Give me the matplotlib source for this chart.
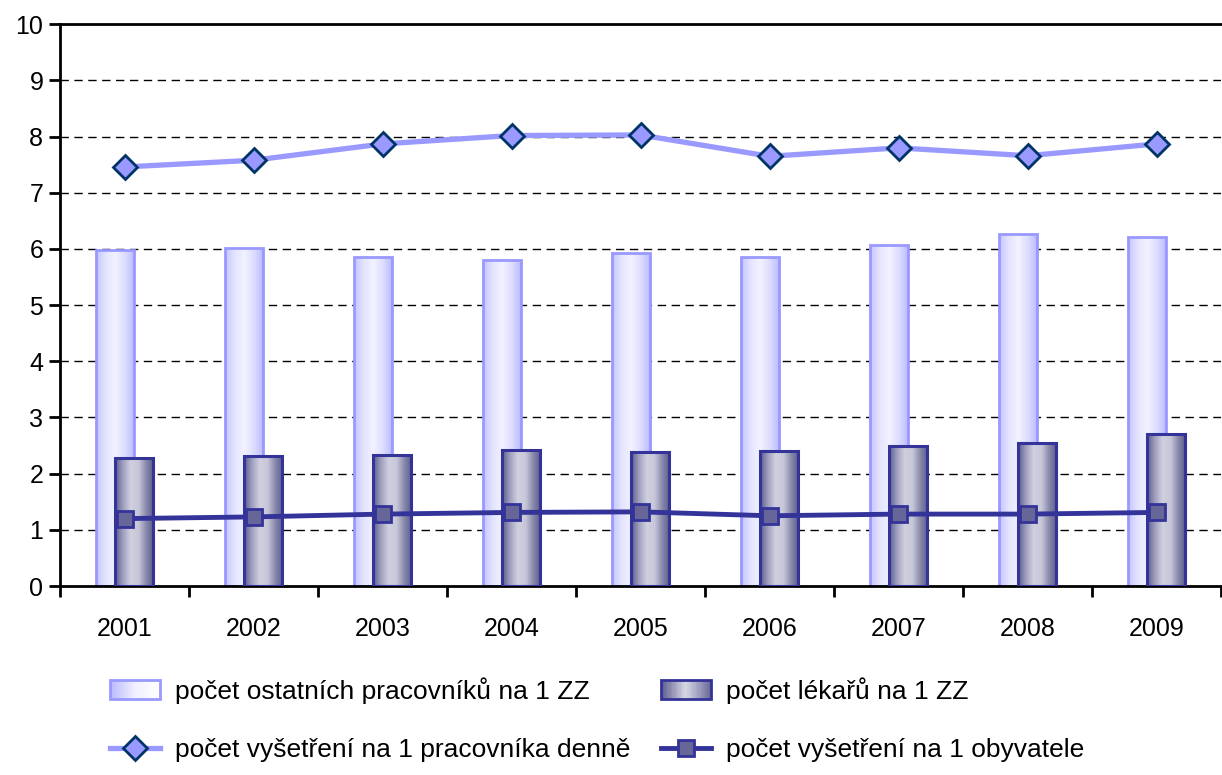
import numpy as np
import matplotlib
matplotlib.use("Agg")
import matplotlib.pyplot as plt
from matplotlib.patches import Rectangle
from matplotlib.lines import Line2D
from matplotlib.legend_handler import HandlerBase
from matplotlib.colors import LinearSegmentedColormap

years = ["2001", "2002", "2003", "2004", "2005", "2006", "2007", "2008", "2009"]
ostatni = [5.98, 6.02, 5.85, 5.80, 5.93, 5.86, 6.07, 6.27, 6.21]
lekari = [2.28, 2.31, 2.33, 2.42, 2.38, 2.40, 2.49, 2.54, 2.70]
vys_prac = [7.46, 7.58, 7.87, 8.02, 8.03, 7.65, 7.80, 7.66, 7.87]
vys_obyv = [1.20, 1.23, 1.28, 1.31, 1.32, 1.25, 1.28, 1.28, 1.31]

labels = ["počet ostatních pracovníků na 1 ZZ", "počet lékařů na 1 ZZ",
          "počet vyšetření na 1 pracovníka denně", "počet vyšetření na 1 obyvatele"]

plt.rcParams['font.family'] = ['Liberation Sans', 'DejaVu Sans']

light_cmap = LinearSegmentedColormap.from_list(
    "light", ["#c4c4ff", "#e4e4ff", "#f2f2ff", "#dcdcff", "#b8b8ff"])
dark_cmap = LinearSegmentedColormap.from_list(
    "dark", ["#5a5a8c", "#9e9ebe", "#cfcfdf", "#c8c8da", "#8a8aac", "#5a5a8c"])

fig = plt.figure(figsize=(12.22, 7.75), dpi=100)
W, H = 1222, 775
ax = fig.add_axes([60 / W, 1 - 586 / H, (1221 - 60) / W, (586 - 24.3) / H])

x = np.arange(len(years))
bw = 0.295
off = 0.074

grad = np.linspace(0, 1, 256).reshape(1, -1)


def gradient_bars(xpos, vals, cmap, edge, lw, z):
    bars = ax.bar(xpos, vals, width=bw, facecolor="none", edgecolor=edge,
                  linewidth=lw, zorder=z + 0.1)
    for b in bars:
        x0, y0 = b.get_x(), b.get_y()
        w, h = b.get_width(), b.get_height()
        im = ax.imshow(grad, cmap=cmap, aspect="auto",
                       extent=(x0, x0 + w, y0, y0 + h), zorder=z,
                       interpolation="bilinear")
        clip = Rectangle((x0, y0), w, h, transform=ax.transData)
        im.set_clip_path(clip)
    return bars


gradient_bars(x - off, ostatni, light_cmap, "#9999ff", 2.0, 2)
gradient_bars(x + off, lekari, dark_cmap, "#333399", 2.2, 3)

ax.plot(x, vys_prac, color="#9999ff", lw=3.8, marker="D", markersize=12.5,
        markerfacecolor="#9999ff", markeredgecolor="#003366",
        markeredgewidth=2, zorder=5)
ax.plot(x, vys_obyv, color="#333399", lw=3.5, marker="s", markersize=11.5,
        markerfacecolor="#666699", markeredgecolor="#333399",
        markeredgewidth=2, zorder=5)

ax.set_xlim(-0.5, len(years) - 0.5)
ax.set_ylim(0, 10)
ax.set_aspect("auto")
ax.set_yticks(range(0, 11))
for yv in range(1, 10):
    ax.axhline(yv, color="black", lw=1, ls=(0, (6, 4)), zorder=1)

ax.set_xticks(x)
ax.set_xticklabels(years)
ax.set_xticks(np.arange(-0.5, len(years) + 0.5, 1.0), minor=True)
ax.tick_params(axis="x", which="major", length=0, pad=22, labelsize=18)
ax.tick_params(axis="x", which="minor", length=8, width=2, direction="out")
ax.tick_params(axis="y", length=8, width=2, direction="out", labelsize=18, pad=4)

for s in ["left", "bottom", "top"]:
    ax.spines[s].set_linewidth(2)
    ax.spines[s].set_color("black")
ax.spines["right"].set_visible(False)


class HandlerGradient(HandlerBase):
    def __init__(self, cmap, edge, **kw):
        super().__init__(**kw)
        self.cmap = cmap
        self.edge = edge

    def create_artists(self, legend, orig_handle, xdescent, ydescent, width,
                       height, fontsize, trans):
        arts = []
        n = 30
        for i in range(n):
            c = self.cmap((i + 0.5) / n)
            r = Rectangle((-xdescent + width * i / n, -ydescent), width / n + 0.02,
                          height, facecolor=c, edgecolor="none", transform=trans)
            arts.append(r)
        arts.append(Rectangle((-xdescent, -ydescent), width, height,
                              facecolor="none", edgecolor=self.edge, lw=2,
                              transform=trans))
        return arts


leg_light_cmap = LinearSegmentedColormap.from_list("ll", ["#b8b8ff", "#f0f0ff", "#ffffff"])
leg_dark_cmap = LinearSegmentedColormap.from_list("dl", ["#5a5a8c", "#d8d8e6", "#6a6a98"])

h1 = Rectangle((0, 0), 1, 1)
h2 = Rectangle((0, 0), 1, 1, label="x")
h3 = Line2D([], [], color="#9999ff", lw=3.8, marker="D", markersize=12.5,
            markerfacecolor="#9999ff", markeredgecolor="#003366", markeredgewidth=2)
h4 = Line2D([], [], color="#333399", lw=3.5, marker="s", markersize=11.5,
            markerfacecolor="#666699", markeredgecolor="#333399", markeredgewidth=2)

leg = fig.legend([h1, h3, h2, h4], [labels[0], labels[2], labels[1], labels[3]],
                 ncol=2, loc="upper left", bbox_to_anchor=(110 / W, 1 - 677 / H),
                 frameon=False, fontsize=19, handlelength=1.9, handleheight=0.7,
                 handletextpad=0.57, columnspacing=1.14, labelspacing=1.3,
                 borderpad=0, borderaxespad=0,
                 handler_map={h1: HandlerGradient(leg_light_cmap, "#9999ff"),
                              h2: HandlerGradient(leg_dark_cmap, "#333399")})

fig.savefig("out.png", dpi=100)
